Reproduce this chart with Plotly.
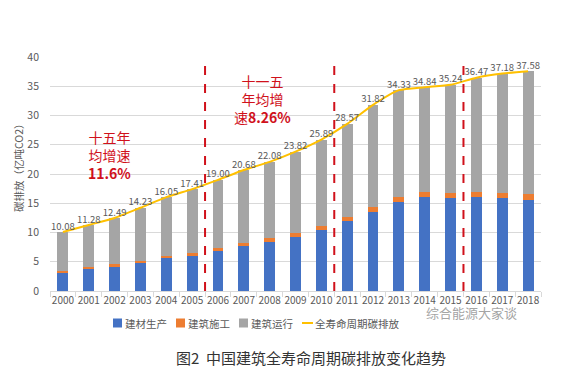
import plotly.graph_objects as go

years = [str(y) for y in range(2000, 2019)]
total = [10.08, 11.28, 12.49, 14.23, 16.05, 17.41, 19.00, 20.68, 22.08, 23.82,
         25.89, 28.57, 31.82, 34.33, 34.84, 35.24, 36.47, 37.18, 37.58]
materials = [3.14, 3.77, 4.23, 4.74, 5.66, 6.06, 6.86, 7.71, 8.46, 9.26,
             10.46, 11.94, 13.54, 15.14, 16.00, 15.89, 16.00, 15.89, 15.60]
construction = [0.30, 0.30, 0.34, 0.35, 0.40, 0.40, 0.45, 0.52, 0.57, 0.66,
                0.68, 0.75, 0.80, 0.86, 0.91, 0.91, 0.91, 0.91, 0.91]
operation = [round(t - m - c, 2) for t, m, c in zip(total, materials, construction)]

names = ["建材生产", "建筑施工", "建筑运行", "全寿命周期碳排放"]
colors = ["#4472C4", "#ED7D31", "#A5A5A5", "#FFC000"]
divider_positions = [5.5, 10.5, 15.5]

FONT = "Noto Sans CJK SC"
GRAY = "#595959"
RED = "#D0111B"

W, H = 570, 376
OFF = 8  # page body margin offset
# target plot area in page pixels
L, R, T, B = 50, 541, 57, 291
def px(xp):
    return (xp - L) / (R - L)
def py(yp):
    return (B - yp) / (B - T)

fig = go.Figure()
for vals, name, col in zip([materials, construction, operation], names[:3], colors[:3]):
    fig.add_trace(go.Bar(x=years, y=vals, name=name, marker=dict(color=col, line=dict(width=0)),
                         width=0.42, showlegend=False))
fig.add_trace(go.Scatter(x=years, y=total, name=names[3], mode="lines+text", showlegend=False,
                         line=dict(color=colors[3], width=2, shape="spline", smoothing=0.6),
                         text=[f"{v:.2f}" for v in total], textposition="top center",
                         textfont=dict(size=9.5, color=GRAY, family=FONT)))

for xp in divider_positions:
    fig.add_shape(type="line", xref="x", yref="y", x0=xp, x1=xp, y0=0, y1=40,
                  line=dict(color=RED, width=2, dash="dash"))

ann_font = dict(size=14, color=RED, family=FONT)
fig.add_annotation(x=1.82, y=23.3, xref="x", yref="y", showarrow=False, align="center",
                   xanchor="center", yanchor="middle",
                   text="十五年<br>均增速<br><b>11.6%</b>", font=ann_font)
fig.add_annotation(x=7.74, y=32.9, xref="x", yref="y", showarrow=False, align="center",
                   xanchor="center", yanchor="middle",
                   text="十一五<br>年均增<br>速<b>8.26%</b>", font=ann_font)
fig.add_annotation(x=11.19, y=41.1, xref="x", yref="y", showarrow=False, align="left",
                   xanchor="left", yanchor="middle",
                   text="十二五年均<br>增速<b>6.36%</b>", font=ann_font)
fig.add_annotation(x=15.75, y=44.5, xref="x", yref="y", showarrow=False, align="left",
                   xanchor="left", yanchor="middle",
                   text="十三五年前三年<br>均增速<b>2.15%</b>", font=ann_font)

# y-axis title
fig.add_annotation(x=px(18), y=py(166), xref="paper", yref="paper", showarrow=False,
                   xanchor="center", yanchor="middle",
                   text="碳排放（亿吨CO2）", textangle=-90,
                   font=dict(size=10.5, color=GRAY, family=FONT))
# caption
fig.add_annotation(x=px(311), y=py(358), xref="paper", yref="paper", showarrow=False,
                   xanchor="center", yanchor="middle",
                   text="图2  中国建筑全寿命周期碳排放变化趋势",
                   font=dict(size=15, color="#333333", family=FONT))
# watermark
fig.add_annotation(x=px(471), y=py(312), xref="paper", yref="paper", showarrow=False,
                   xanchor="center", yanchor="middle",
                   text="综合能源大家谈",
                   font=dict(size=13, color="rgba(140,140,140,0.8)", family=FONT))

# compact legend (Excel style)
leg_y = 323
leg_font = dict(size=10.5, color=GRAY, family=FONT)
swatch_x = [113, 176, 239]
for sx, name, col in zip(swatch_x, names[:3], colors[:3]):
    fig.add_shape(type="rect", xref="paper", yref="paper",
                  x0=px(sx), x1=px(sx + 9), y0=py(leg_y + 4.5), y1=py(leg_y - 4.5),
                  fillcolor=col, line=dict(width=0))
    fig.add_annotation(x=px(sx + 10), y=py(leg_y), xref="paper", yref="paper",
                       xanchor="left", yanchor="middle", showarrow=False,
                       text=name, font=leg_font)
fig.add_shape(type="line", xref="paper", yref="paper",
              x0=px(302), x1=px(313), y0=py(leg_y), y1=py(leg_y),
              line=dict(color=colors[3], width=2))
fig.add_annotation(x=px(313), y=py(leg_y), xref="paper", yref="paper",
                   xanchor="left", yanchor="middle", showarrow=False,
                   text=names[3], font=leg_font)

fig.update_layout(
    width=W, height=H,
    margin=dict(l=L - OFF, r=W - (R - OFF), t=T - OFF, b=H - (B - OFF)),
    paper_bgcolor="white", plot_bgcolor="white",
    barmode="stack",
    font=dict(family=FONT, color=GRAY),
    showlegend=False,
    xaxis=dict(type="category", range=[-0.5, len(years) - 0.5],
               showgrid=False, showline=True, linecolor="#D9D9D9",
               ticks="outside", tickson="boundaries", ticklen=5, tickcolor="#D9D9D9",
               tickangle=0, automargin=False,
               tickfont=dict(size=10, color=GRAY, family=FONT)),
    yaxis=dict(range=[0, 40], dtick=5, showgrid=True, gridcolor="#D9D9D9", gridwidth=1,
               zeroline=False, showline=False, ticklabelstandoff=10, automargin=False,
               tickfont=dict(size=10.5, color=GRAY, family=FONT)),
)

fig.write_html("out.html")
